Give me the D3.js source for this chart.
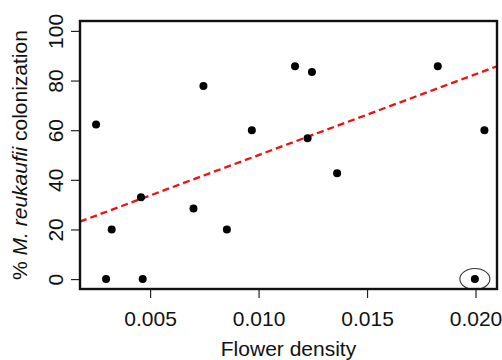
<!DOCTYPE html>
<html>
<head>
<meta charset="utf-8">
<script src="https://cdn.jsdelivr.net/npm/d3@7"></script>
<style>
  html, body { margin: 0; padding: 0; background: #fff; }
  svg { display: block; }
  text { font-family: "Liberation Sans", Arial, Helvetica, sans-serif; fill: #111; }
</style>
</head>
<body>
<svg id="chart" width="502" height="360"></svg>
<script>
// ---- data ----
const flowerDensity = [0.00251, 0.00297, 0.00323, 0.00458, 0.00466, 0.00700, 0.00746, 0.00854, 0.00969, 0.01168, 0.01226, 0.01246, 0.01362, 0.01826, 0.01997, 0.02041];
const colonization  = [62.3,    0,       20,      33,      0,       28.4,    77.8,    20,      60,      85.8,    56.8,    83.4,    42.6,    85.8,    0,       60];
const xTicks = [0.005, 0.010, 0.015, 0.020];
const yTicks = [0, 20, 40, 60, 80, 100];
const fitIntercept = [17.4];
const fitSlope = [3257];
const highlighted = [0.01997, 0]; // circled outlier (x, y)

const svg = d3.select("#chart");
const pL = 80, pR = 497, pT = 21, pB = 289;

const x = d3.scaleLinear().domain([0.00177, 0.02099]).range([pL, pR]);
const y = d3.scaleLinear().domain([-4, 104]).range([pB, pT]);

svg.append("defs").append("clipPath").attr("id", "plotclip")
  .append("rect").attr("x", pL).attr("y", pT).attr("width", pR - pL).attr("height", pB - pT);

// x axis
const xAxis = svg.append("g")
  .attr("transform", `translate(0,${pB})`)
  .call(d3.axisBottom(x).tickValues(xTicks).tickFormat(d3.format(".3f")).tickSize(9).tickPadding(13).tickSizeOuter(0));
xAxis.select(".domain").remove();
xAxis.selectAll("line").attr("stroke", "#222").attr("stroke-width", 1.2);
xAxis.selectAll("text").attr("font-size", 21).attr("fill", "#111");

// y axis
const yAxis = svg.append("g")
  .attr("transform", `translate(${pL},0)`)
  .call(d3.axisLeft(y).tickValues(yTicks).tickSize(9).tickSizeOuter(0));
yAxis.select(".domain").remove();
yAxis.selectAll(".tick line").attr("stroke", "#222").attr("stroke-width", 1.2);
yAxis.selectAll(".tick text")
  .attr("font-size", 21).attr("fill", "#111")
  .attr("text-anchor", "middle")
  .attr("x", null).attr("y", null).attr("dy", null)
  .attr("transform", "translate(-17,0) rotate(-90)");

// regression line
const xd = x.domain();
svg.append("line")
  .attr("clip-path", "url(#plotclip)")
  .attr("x1", x(xd[0])).attr("y1", y(fitIntercept[0] + fitSlope[0] * xd[0]))
  .attr("x2", x(xd[1])).attr("y2", y(fitIntercept[0] + fitSlope[0] * xd[1]))
  .attr("stroke", "#ee1111").attr("stroke-width", 2.3)
  .attr("stroke-dasharray", "7,4");

// points
svg.append("g").selectAll("circle")
  .data(flowerDensity.map((d, i) => [d, colonization[i]]))
  .join("circle")
  .attr("cx", d => x(d[0])).attr("cy", d => y(d[1]))
  .attr("r", 4).attr("fill", "#000");

// highlight ellipse
svg.append("ellipse")
  .attr("cx", x(highlighted[0])).attr("cy", y(highlighted[1]))
  .attr("rx", 15).attr("ry", 10.5)
  .attr("fill", "none").attr("stroke", "#333").attr("stroke-width", 1.1);

// box
svg.append("rect")
  .attr("x", pL).attr("y", pT).attr("width", pR - pL).attr("height", pB - pT)
  .attr("fill", "none").attr("stroke", "#111").attr("stroke-width", 2.4);

// axis titles
svg.append("text")
  .attr("x", (pL + pR) / 2).attr("y", 356)
  .attr("text-anchor", "middle").attr("font-size", 21)
  .text("Flower density");

const yt = svg.append("text")
  .attr("transform", `translate(27,${(pT + pB) / 2}) rotate(-90)`)
  .attr("text-anchor", "middle").attr("font-size", 21);
yt.append("tspan").text("% ");
yt.append("tspan").attr("font-style", "italic").text("M. reukaufii");
yt.append("tspan").text(" colonization");
</script>
</body>
</html>
